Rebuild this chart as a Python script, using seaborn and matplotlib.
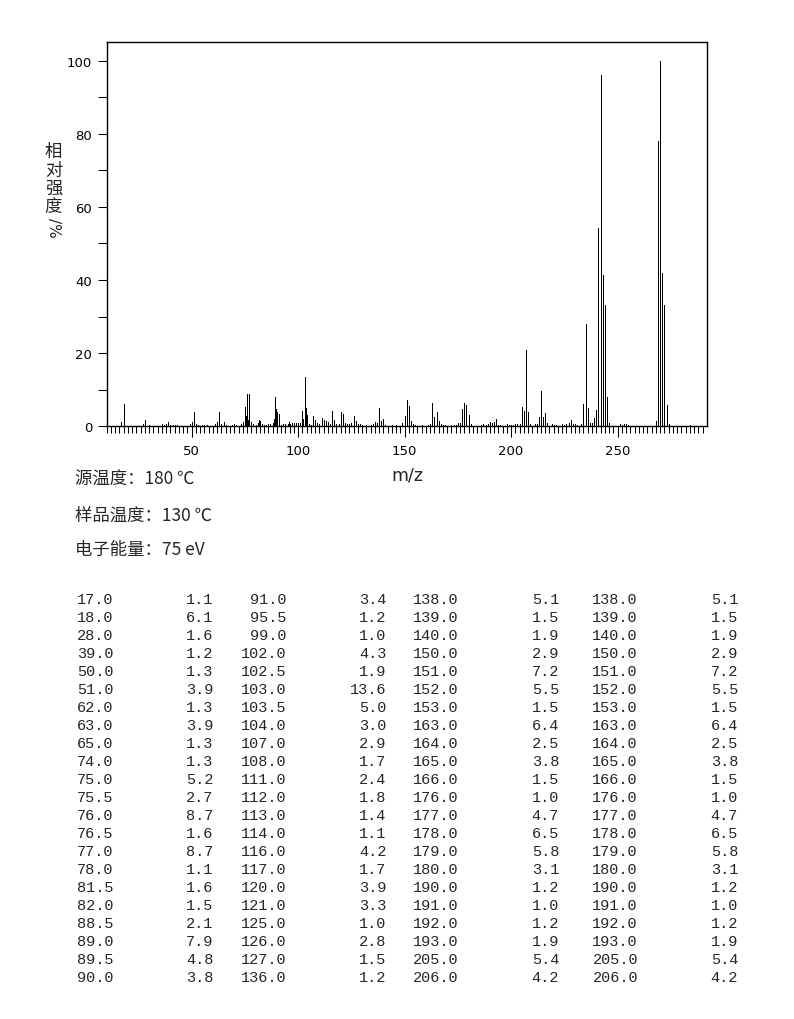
import matplotlib
matplotlib.use('Agg')
import matplotlib.pyplot as plt
import seaborn as sns
import numpy as np
import pandas as pd

# peaks listed in the table (m/z, relative intensity %)
table_mz = [17.0, 18.0, 28.0, 39.0, 50.0, 51.0, 62.0, 63.0, 65.0, 74.0, 75.0,
            75.5, 76.0, 76.5, 77.0, 78.0, 81.5, 82.0, 88.5, 89.0, 89.5, 90.0,
            91.0, 95.5, 99.0, 102.0, 102.5, 103.0, 103.5, 104.0, 107.0, 108.0, 111.0,
            112.0, 113.0, 114.0, 116.0, 117.0, 120.0, 121.0, 125.0, 126.0, 127.0, 136.0,
            138.0, 139.0, 140.0, 150.0, 151.0, 152.0, 153.0, 163.0, 164.0, 165.0, 166.0,
            176.0, 177.0, 178.0, 179.0, 180.0, 190.0, 191.0, 192.0, 193.0, 205.0, 206.0]
table_int = [1.1, 6.1, 1.6, 1.2, 1.3, 3.9, 1.3, 3.9, 1.3, 1.3, 5.2,
             2.7, 8.7, 1.6, 8.7, 1.1, 1.6, 1.5, 2.1, 7.9, 4.8, 3.8,
             3.4, 1.2, 1.0, 4.3, 1.9, 13.6, 5.0, 3.0, 2.9, 1.7, 2.4,
             1.8, 1.4, 1.1, 4.2, 1.7, 3.9, 3.3, 1.0, 2.8, 1.5, 1.2,
             5.1, 1.5, 1.9, 2.9, 7.2, 5.5, 1.5, 6.4, 2.5, 3.8, 1.5,
             1.0, 4.7, 6.5, 5.8, 3.1, 1.2, 1.0, 1.2, 1.9, 5.4, 4.2]

# peaks above 206
high_mz = [207, 208, 213, 214, 215, 216, 217, 228, 234, 235, 236, 239, 240,
           241, 242, 243, 244, 245, 246, 268, 269, 270, 271, 272, 273]
high_int = [20.9, 3.9, 2.5, 9.7, 2.5, 3.6, 0.9, 1.7, 6.1, 28.0, 5.1, 2.2, 4.5,
            54.2, 96.1, 41.4, 33.2, 8.0, 1.0, 1.5, 78.0, 100.0, 41.9, 33.2, 5.8]

# weak peaks (< 1 %)
weak_mz = [27, 30, 36, 37, 38, 40, 41, 42, 43, 49, 52, 53, 55, 56, 57, 61, 64, 66,
           69, 70, 71, 73, 79, 80, 81, 83, 84, 85, 86, 87, 88, 92, 93, 94, 95, 96,
           97, 98, 100, 101, 105, 106, 109, 110, 115, 118, 119, 122, 123, 124, 128,
           129, 130, 132, 134, 135, 137, 141, 144, 146, 149, 154, 155, 158, 161, 162,
           167, 168, 169, 172, 173, 174, 175, 181, 186, 187, 188, 189, 194, 195, 198,
           199, 200, 201, 202, 203, 204, 209, 211, 212, 219, 220, 221, 224, 225, 226,
           227, 229, 230, 231, 233, 237, 238, 251, 252, 253, 254, 255, 274, 284]
weak_int = [0.5, 0.4, 0.5, 0.4, 0.5, 0.4, 0.4, 0.4, 0.3, 0.5, 0.6, 0.4, 0.3, 0.3, 0.3, 0.5, 0.7, 0.3,
            0.4, 0.5, 0.3, 0.5, 0.6, 0.4, 0.9, 0.5, 0.3, 0.4, 0.5, 0.7, 0.9, 0.4, 0.6, 0.5, 0.7, 0.5,
            0.8, 0.9, 0.9, 0.8, 0.5, 0.4, 0.8, 0.7, 0.6, 0.6, 0.5, 0.8, 0.5, 0.7, 0.6,
            0.5, 0.4, 0.3, 0.4, 0.6, 0.9, 0.4, 0.4, 0.3, 0.8, 0.5, 0.3, 0.3, 0.4, 0.7,
            0.6, 0.3, 0.3, 0.3, 0.3, 0.4, 0.8, 0.5, 0.4, 0.5, 0.4, 0.6, 0.4, 0.3, 0.5,
            0.3, 0.3, 0.4, 0.5, 0.6, 0.6, 0.5, 0.5, 0.5, 0.5, 0.4, 0.4, 0.5, 0.4, 0.7,
            0.9, 0.7, 0.6, 0.4, 0.7, 0.8, 0.8, 0.6, 0.4, 0.6, 0.5, 0.4, 0.5, 0.4]

info_lines = ['源温度：180 ℃', '样品温度：130 ℃', '电子能量：75 eV']

spectrum = pd.DataFrame({
    'mz': table_mz + high_mz + weak_mz,
    'rel': table_int + high_int + weak_int,
}).sort_values('mz')

sns.set_style('ticks')
plt.rcParams['font.family'] = ['DejaVu Sans', 'Noto Sans CJK SC']

W, H = 794, 1020
fig = plt.figure(figsize=(W / 100, H / 100), dpi=100)


def fx(px):
    return px / W


def fy(py):
    return 1 - py / H


ax = fig.add_axes([fx(106.5), fy(427.3), fx(707) - fx(106.5), fy(43) - fy(427.3)])
ax.vlines(spectrum['mz'], 0, spectrum['rel'], colors='black', linewidth=0.55,
          antialiased=False)
ax.set_xlim(10, 292)
ax.set_ylim(0, 105.1)

ax.set_xticks(np.arange(50, 251, 50))
ax.set_xticks(np.arange(10, 291, 2), minor=True)
ax.set_yticks(np.arange(0, 101, 20))
ax.set_yticks(np.arange(10, 100, 20), minor=True)
ax.tick_params(axis='x', which='major', length=8, width=0.75, pad=5,
               labelsize=9.5, color='black', labelcolor='black')
ax.tick_params(axis='x', which='minor', length=4.8, width=0.75, color='black')
ax.tick_params(axis='y', which='both', length=6.8, width=0.75, pad=3.5,
               labelsize=9.5, color='black', labelcolor='black')
for sp in ax.spines.values():
    sp.set_linewidth(1.0)
    sp.set_color('black')

# y label: upright CJK chars stacked, latin part rotated
cjk = ['Noto Sans CJK SC', 'DejaVu Sans']
for ch, yy in zip('相对强度', [152, 171, 189, 207]):
    fig.text(fx(53.5), fy(yy), ch, ha='center', va='center', fontsize=12.5, family=cjk)
fig.text(fx(53.5), fy(228), '/%', ha='center', va='center', fontsize=11,
         rotation=-90, family='DejaVu Sans')

fig.text(fx(407), fy(475), 'm/z', ha='center', va='center', fontsize=12.5)

for line, yy in zip(info_lines, [480, 516, 550]):
    fig.text(fx(75), fy(yy), line, ha='left', va='center', fontsize=12.5, family=cjk)

# peak table: four column pairs, the last one repeats the third
pairs = [(table_mz[0:22], table_int[0:22]),
         (table_mz[22:44], table_int[22:44]),
         (table_mz[44:66], table_int[44:66]),
         (table_mz[44:66], table_int[44:66])]
col_right = [(113.5, 213.5), (286.5, 386.5), (459, 559), (638, 738)]
for (mzs, ints), (xm, xi) in zip(pairs, col_right):
    for i, (m, v) in enumerate(zip(mzs, ints)):
        yy = 600 + 18 * i
        fig.text(fx(xm), fy(yy), f'{m:.1f}', ha='right', va='center',
                 fontsize=11, family='Liberation Mono')
        fig.text(fx(xi), fy(yy), f'{v:.1f}', ha='right', va='center',
                 fontsize=11, family='Liberation Mono')

fig.savefig('out.png', dpi=100, facecolor='white')
